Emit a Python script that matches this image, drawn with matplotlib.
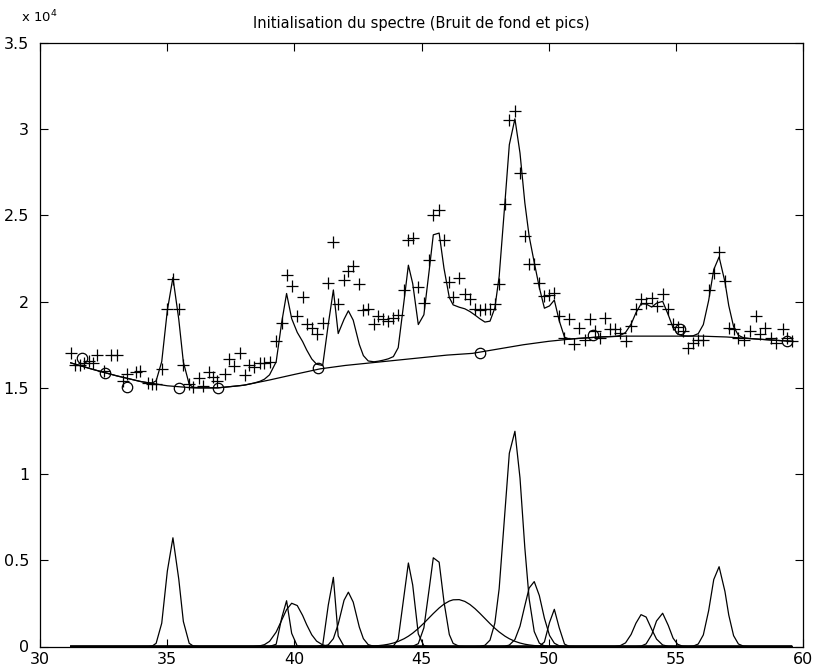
import numpy as np
import matplotlib
matplotlib.use("Agg")
import matplotlib.pyplot as plt
from matplotlib.ticker import FuncFormatter, MultipleLocator

plt.rcParams['font.family'] = ['DejaVu Sans']

title = "Initialisation du spectre (Bruit de fond et pics)"

# measured diffractogram (2-theta, counts)
x_data = [31.20, 31.37, 31.56, 31.73, 31.91, 32.08, 32.22, 32.51, 32.78, 33.03,
          33.27, 33.40, 33.75, 33.92, 34.25, 34.41, 34.56, 34.78, 35.00, 35.22,
          35.45, 35.63, 35.86, 36.02, 36.26, 36.39, 36.63, 36.81, 36.96, 37.27,
          37.44, 37.63, 37.85, 38.06, 38.23, 38.41, 38.64, 38.82, 39.02, 39.28,
          39.50, 39.69, 39.89, 40.11, 40.32, 40.48, 40.68, 40.87, 41.11, 41.33,
          41.53, 41.72, 41.95, 42.12, 42.31, 42.55, 42.71, 42.90, 43.13, 43.30,
          43.49, 43.69, 43.89, 44.08, 44.31, 44.48, 44.65, 44.87, 45.09, 45.30,
          45.46, 45.69, 45.88, 46.09, 46.24, 46.48, 46.70, 46.90, 47.10, 47.29,
          47.49, 47.69, 47.88, 48.05, 48.28, 48.45, 48.67, 48.87, 49.06, 49.23,
          49.43, 49.63, 49.83, 50.03, 50.22, 50.41, 50.62, 50.80, 51.00, 51.20,
          51.42, 51.62, 51.82, 52.01, 52.23, 52.41, 52.60, 52.80, 53.02, 53.24,
          53.43, 53.63, 53.83, 54.05, 54.24, 54.48, 54.70, 54.89, 55.07, 55.27,
          55.49, 55.68, 55.88, 56.08, 56.29, 56.49, 56.70, 56.93, 57.08, 57.27,
          57.46, 57.66, 57.91, 58.14, 58.31, 58.52, 58.76, 58.93, 59.20, 59.36,
          59.55]
y_data = [17000, 16300, 16300, 16450, 16560, 16460, 16900, 16000, 16900, 16900,
          15400, 15800, 15900, 16000, 15300, 15200, 15200, 16100, 19550, 21300,
          19550, 16300, 15250, 15050, 15600, 15100, 15900, 15630, 15400, 15800,
          16650, 16250, 17000, 15750, 16300, 16200, 16450, 16450, 16500, 17700,
          18770, 21570, 20900, 19160, 20260, 18680, 18490, 18100, 18770, 21090,
          23460, 19840, 21230, 21800, 22050, 21030, 19490, 19550, 18680, 19160,
          18970, 18870, 19030, 19220, 20660, 23550, 23690, 20840, 19930, 22440,
          25000, 25330, 23600, 21140, 20260, 21370, 20420, 20130, 19550, 19490,
          19550, 19550, 19840, 21030, 25680, 30530, 31050, 27450, 23790, 22180,
          22180, 21090, 20300, 20400, 20500, 19160, 17900, 18970, 17530, 18490,
          17800, 18970, 18300, 17900, 19060, 18400, 18400, 18200, 17720, 18580,
          19550, 20130, 19930, 20220, 19740, 20420, 19550, 18720, 18550, 18320,
          17330, 17620, 17760, 17760, 20700, 21660, 22880, 21200, 18490, 18400,
          17900, 17760, 18300, 19160, 18150, 18500, 17900, 17620, 18400, 17900,
          17700]

# background points (circles)
bg_pts_x = [31.66, 32.53, 33.40, 35.46, 36.98, 40.94, 47.29, 51.75, 55.16, 59.36]
bg_pts_y = [16750, 15880, 15070, 15000, 15000, 16170, 17040, 18060, 18400, 17700]

# smooth background curve
bg_curve_x = [31.2, 32, 33, 34, 35, 36, 37, 38, 39, 40, 41, 42, 43, 44, 45,
              46, 47, 48, 49, 50, 51, 52, 53, 54, 55, 56, 57, 58, 59, 59.6]
bg_curve_y = [16450, 16100, 15700, 15350, 15120, 15000, 15000, 15150, 15450, 15780,
              16100, 16300, 16450, 16600, 16750, 16900, 17000, 17250, 17500, 17700,
              17850, 17950, 18000, 18000, 18000, 18000, 17950, 17850, 17750, 17700]

# initial peaks (centre, height, width)
peak_center = [35.21, 39.65, 39.95, 41.47, 42.12, 44.50, 45.56, 46.38, 48.62,
               49.39, 50.20, 53.69, 54.44, 56.67]
peak_height = [6310, 2750, 2530, 4500, 3150, 4870, 5540, 2730, 12610,
               3790, 2170, 1880, 1950, 4650]
peak_sigma = [0.245, 0.15, 0.45, 0.125, 0.30, 0.19, 0.26, 1.09, 0.35,
              0.34, 0.18, 0.32, 0.27, 0.30]

xd = np.array(x_data)
comps = [h * np.exp(-0.5 * ((xd - c) / s) ** 2)
         for c, h, s in zip(peak_center, peak_height, peak_sigma)]
fit = np.interp(xd, bg_curve_x, bg_curve_y) + np.sum(comps, axis=0)

fig = plt.figure(figsize=(8.16, 6.67), dpi=100)
ax = fig.add_axes([40.2 / 816, 1 - 646.5 / 667, (803 - 40.2) / 816, (646.5 - 43) / 667])

lw = 0.9
ax.plot(x_data, y_data, linestyle='none', marker='+', color='black',
        markersize=8, markeredgewidth=0.9)
ax.plot(bg_pts_x, bg_pts_y, linestyle='none', marker='o', markerfacecolor='none',
        markeredgecolor='black', markersize=7.5, markeredgewidth=0.9)
ax.plot(bg_curve_x, bg_curve_y, color='black', linewidth=lw)
ax.plot(x_data, fit, color='black', linewidth=lw)
for cp in comps:
    ax.plot(x_data, cp, color='black', linewidth=lw)

ax.set_xlim(30, 60)
ax.set_ylim(0, 35000)
ax.xaxis.set_major_locator(MultipleLocator(5))
ax.yaxis.set_major_locator(MultipleLocator(5000))
ax.yaxis.set_major_formatter(FuncFormatter(lambda v, p: '%g' % (v / 1e4)))
ax.tick_params(direction='in', length=5.5, width=0.8, top=True, right=True,
               labelsize=11.5)
ax.tick_params(axis='x', pad=4)
ax.tick_params(axis='y', pad=8)
for sp in ax.spines.values():
    sp.set_linewidth(0.9)

ax.set_title(title, fontsize=10.5, pad=11)
fig.text(21 / 816, 1 - 22 / 667, r'x 10$^{4}$', fontsize=9.5, ha='left', va='baseline')

fig.savefig('out.png', dpi=100)
